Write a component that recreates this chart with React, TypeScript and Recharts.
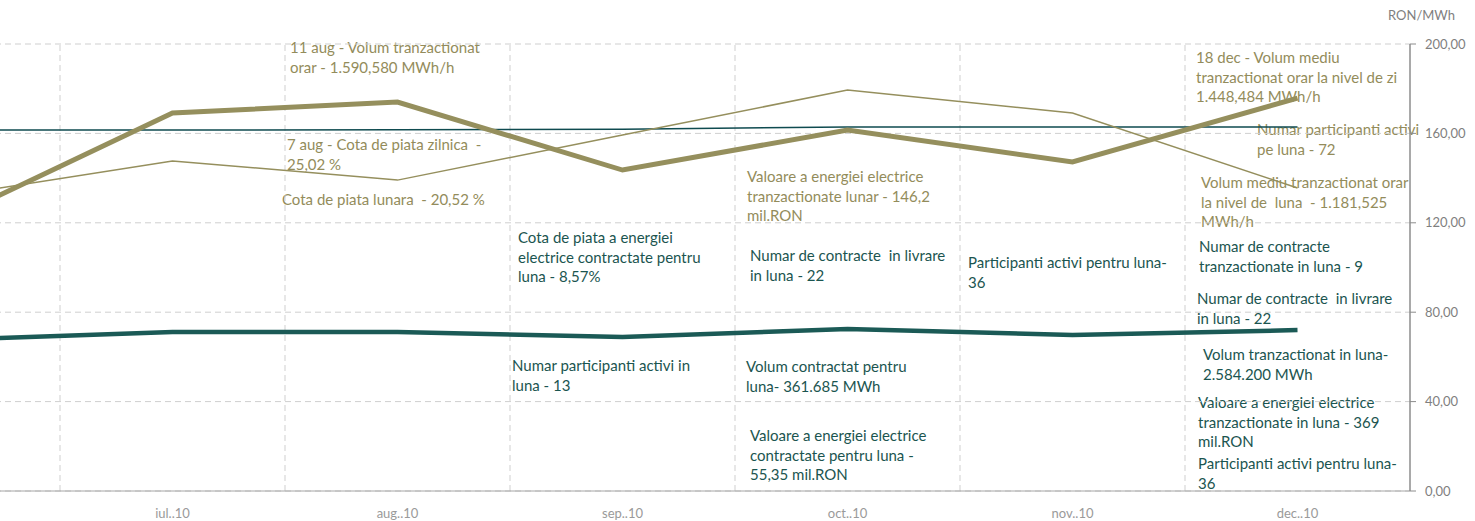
import { CartesianGrid, Line, LineChart, ReferenceLine, XAxis, YAxis } from 'recharts'

const months = ['iun..10', 'iul..10', 'aug..10', 'sep..10', 'oct..10', 'nov..10', 'dec..10']
const lunarVolume = [121.3, 169.1, 174.0, 143.6, 161.5, 147.2, 175.8]
const dailyVolume = [131.9, 147.7, 139.1, 159.3, 179.4, 169.1, 135.6]
const priceRef = [161.5, 161.5, 161.6, 161.9, 162.9, 162.9, 162.9]
const contractPrice = [67.6, 71.1, 71.1, 68.9, 72.5, 69.8, 72.0]
const yTicks = [0, 40, 80, 120, 160, 200]
// month borders sit half a step between categories
const monthBounds = months.slice(1).map((_, i) => i + 0.5)

const OLIVE = '#958f5d'
const TEAL = '#1b5a56'
const TEAL_THIN = '#0f4b50'
const OLIVE_TEXT = '#938c5b'
const TEAL_TEXT = '#1b5550'

const data = months.map((m, i) => ({
  idx: i,
  month: m,
  lunar: lunarVolume[i],
  daily: dailyVolume[i],
  ref: priceRef[i],
  price: contractPrice[i],
}))

const notes = [
  { x: 290, y: 38, c: OLIVE_TEXT, t: ['11 aug - Volum tranzactionat', 'orar - 1.590,580 MWh/h'] },
  { x: 287, y: 135, c: OLIVE_TEXT, t: ['7 aug - Cota de piata zilnica  -', '25,02 %'] },
  { x: 282, y: 190, c: OLIVE_TEXT, t: ['Cota de piata lunara  - 20,52 %'] },
  { x: 747, y: 167, c: OLIVE_TEXT, t: ['Valoare a energiei electrice', 'tranzactionate lunar - 146,2', 'mil.RON'] },
  { x: 1196, y: 48, c: OLIVE_TEXT, t: ['18 dec - Volum mediu', 'tranzactionat orar la nivel de zi', '1.448,484 MWh/h'] },
  { x: 1257, y: 120, c: OLIVE_TEXT, t: ['Numar participanti activi', 'pe luna - 72'] },
  { x: 1201, y: 173, c: OLIVE_TEXT, t: ['Volum mediu tranzactionat orar', 'la nivel de  luna  - 1.181,525', 'MWh/h'] },
  { x: 518, y: 228, c: TEAL_TEXT, t: ['Cota de piata a energiei', 'electrice contractate pentru', 'luna - 8,57%'] },
  { x: 750, y: 246, c: TEAL_TEXT, t: ['Numar de contracte  in livrare', 'in luna - 22'] },
  { x: 968, y: 253, c: TEAL_TEXT, t: ['Participanti activi pentru luna-', '36'] },
  { x: 1199, y: 237, c: TEAL_TEXT, t: ['Numar de contracte', 'tranzactionate in luna - 9'] },
  { x: 1197, y: 289, c: TEAL_TEXT, t: ['Numar de contracte  in livrare', 'in luna - 22'] },
  { x: 512, y: 356, c: TEAL_TEXT, t: ['Numar participanti activi in', 'luna - 13'] },
  { x: 746, y: 357, c: TEAL_TEXT, t: ['Volum contractat pentru', 'luna- 361.685 MWh'] },
  { x: 1203, y: 345, c: TEAL_TEXT, t: ['Volum tranzactionat in luna-', '2.584.200 MWh'] },
  { x: 1198, y: 393, c: TEAL_TEXT, t: ['Valoare a energiei electrice', 'tranzactionate in luna - 369', 'mil.RON'] },
  { x: 1198, y: 454, c: TEAL_TEXT, t: ['Participanti activi pentru luna-', '36'] },
  { x: 750, y: 426, c: TEAL_TEXT, t: ['Valoare a energiei electrice', 'contractate pentru luna -', '55,35 mil.RON'] },
]

const FONT = 'Lato, "Open Sans", sans-serif'

export default function App() {
  return (
    <div
      style={{
        position: 'absolute',
        left: 0,
        top: 0,
        width: 1475,
        height: 521,
        overflow: 'hidden',
        background: '#fff',
        fontFamily: FONT,
      }}
    >
      {/* notes sit under the chart so the lines and the axis draw over them */}
      {notes.map((n, i) => (
        <div
          key={i}
          style={{
            position: 'absolute',
            left: n.x,
            top: n.y,
            color: n.c,
            fontSize: 15,
            lineHeight: '19.5px',
            whiteSpace: 'pre',
          }}
        >
          {n.t.join('\n')}
        </div>
      ))}
      <div
        style={{
          position: 'absolute',
          left: 1388,
          top: 7,
          fontSize: 13,
          color: '#7f7f7f',
        }}
      >
        RON/MWh
      </div>
      <div style={{ position: 'absolute', left: -200, top: 0 }}>
        <LineChart
          width={1675}
          height={521}
          data={data}
          margin={{ top: 44, right: 0, left: 35, bottom: 0 }}
        >
          <XAxis
            type='number'
            dataKey='idx'
            domain={[-0.5, 6.5]}
            ticks={months.slice(1).map((_, i) => i + 1)}
            tickFormatter={(i) => months[i]}
            axisLine={{ stroke: '#a6a6a6' }}
            tickLine={false}
            tick={{ fill: '#9a9a9a', fontSize: 13, fontFamily: FONT }}
            tickMargin={12}
            height={30}
          />
          <YAxis
            orientation='right'
            domain={[0, 200]}
            ticks={yTicks}
            tickFormatter={(v) => v.toFixed(2).replace('.', ',')}
            axisLine={{ stroke: '#8c8c8c', strokeWidth: 1.5 }}
            tickLine={{ stroke: '#8c8c8c' }}
            tickSize={6}
            tickMargin={9}
            tick={{ fill: '#7f7f7f', fontSize: 13, fontFamily: FONT }}
            width={65}
          />
          <CartesianGrid
            vertical={false}
            stroke='#cfcfcf'
            strokeDasharray='6 4'
          />
          {monthBounds.map((b) => (
            <ReferenceLine
              key={b}
              x={b}
              stroke='#cfcfcf'
              strokeDasharray='6 4'
            />
          ))}
          <Line
            dataKey='ref'
            stroke={TEAL_THIN}
            strokeWidth={1.5}
            dot={false}
            isAnimationActive={false}
          />
          <Line
            dataKey='daily'
            stroke={OLIVE}
            strokeWidth={1.5}
            dot={false}
            isAnimationActive={false}
          />
          <Line
            dataKey='lunar'
            stroke={OLIVE}
            strokeWidth={5}
            dot={false}
            isAnimationActive={false}
          />
          <Line
            dataKey='price'
            stroke={TEAL}
            strokeWidth={4.5}
            dot={false}
            isAnimationActive={false}
          />
        </LineChart>
      </div>
    </div>
  )
}
